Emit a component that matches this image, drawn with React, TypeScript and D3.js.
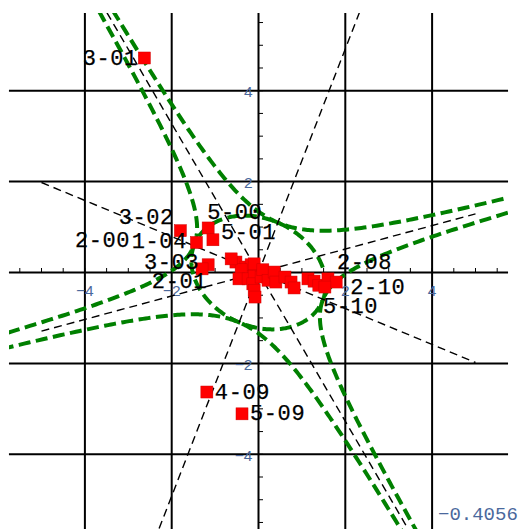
import React from 'react';
import * as d3 from 'd3';

const W = 523;
const H = 529;

// ---- axes / grid data ----
const xDomain = [-5.75, 5.75];
const yDomain = [-5.71, 5.71];
const gridValues = [-4, -2, 2, 4];
const tickLabelValues = [-4, -2, 2, 4];
const minorTickValues = [-5.5, -5, -4.5, -4, -3.5, -3, -2.5, -2, -1.5, -1, -0.5, 0.5, 1, 1.5, 2, 2.5, 3, 3.5, 4, 4.5, 5, 5.5];

// ---- dashed lines through the origin (slopes, data units) ----
const lineSlopes = [-1.637, 0.258, -0.396, 2.46];
const lineXExtent = [-5, 5];

// ---- hyperbola / ellipse family (asymptotes = first two lines) ----
const semiAxisA = 1.6;

// ---- labelled points ----
const labeledNames = ['3-01', '3-02', '1-04', '2-00', '5-00', '5-01', '3-03', '2-01', '2-08', '2-10', '5-10', '4-09', '5-09'];
const labeledX = [-2.63, -1.8, -1.43, -0.63, -1.16, -1.05, -1.16, -1.3, 1.6, 1.79, 1.53, -1.19, -0.38];
const labeledY = [4.72, 0.92, 0.66, 0.3, 0.98, 0.72, 0.17, 0.08, -0.14, -0.21, -0.32, -2.63, -3.11];

// ---- unlabelled points in the central cluster ----
const clusterX = [-0.52, -0.29, -0.17, -0.1, -0.4, -0.45, -0.24, -0.1, -0.13, -0.1, -0.08, 0.06, 0.1, 0.22, 0.36, 0.4, 0.61, 0.75, 0.82, 1.14, 1.28, 1.39];
const clusterY = [0.23, 0.12, 0.17, 0.19, 0.06, -0.14, -0.14, -0.08, -0.25, -0.39, -0.54, -0.1, 0.06, -0.17, 0.01, -0.21, -0.1, -0.21, -0.34, -0.14, -0.19, -0.28];

const cornerValue = '\u22120.4056';

// label placement (pixels relative to the point, anchor)
const labelPlacement: Record<string, [number, number, string]> = {
  '3-01': [-6.5, 2, 'end'],
  '3-02': [-6.5, -12.5, 'end'],
  '1-04': [-9.5, 0, 'end'],
  '2-00': [-101, -17, 'end'],
  '5-00': [-1, -14, 'start'],
  '5-01': [8, -6, 'start'],
  '3-03': [-9, -1, 'end'],
  '2-01': [5, 14, 'end'],
  '2-08': [9, -15, 'start'],
  '2-10': [14, 6, 'start'],
  '5-10': [-2, 20, 'start'],
  '4-09': [8, 1, 'start'],
  '5-09': [8, 1, 'start'],
};

const GREEN = 'rgb(0,128,0)';
const BLUE = '#4a689c';

export default function App() {
  const xs = d3.scaleLinear().domain(xDomain).range([8.95, 508.05]);
  const ys = d3.scaleLinear().domain(yDomain).range([532, 13]);
  const x0 = xs(0);
  const y0 = ys(0);

  // geometry of the conic family
  const th1 = Math.atan(lineSlopes[0]) + Math.PI;
  const th4 = Math.atan(lineSlopes[1]) + Math.PI;
  const phi = (th1 + th4) / 2;
  const half = (th4 - th1) / 2;
  const a = semiAxisA;
  const b = a * Math.tan(half);
  const eu = [Math.cos(phi), Math.sin(phi)];
  const ev = [-Math.sin(phi), Math.cos(phi)];
  const toXY = (u: number, v: number): [number, number] => [u * eu[0] + v * ev[0], u * eu[1] + v * ev[1]];

  const ts = d3.range(-3.6, 3.6001, 0.02);
  const branches: [number, number][][] = [
    ts.map((t) => toXY(a * Math.cosh(t), b * Math.sinh(t))),
    ts.map((t) => toXY(-a * Math.cosh(t), b * Math.sinh(t))),
    ts.map((t) => toXY(a * Math.sinh(t), b * Math.cosh(t))),
    ts.map((t) => toXY(a * Math.sinh(t), -b * Math.cosh(t))),
  ];
  const ellipse = d3.range(0, 2 * Math.PI + 0.001, 0.02).map((t) => toXY(a * Math.cos(t), b * Math.sin(t)));

  const line = d3
    .line<[number, number]>()
    .x((d) => xs(d[0]))
    .y((d) => ys(d[1]));

  const plotLeft = xs(xDomain[0]);
  const plotRight = xs(xDomain[1]);
  const plotTop = ys(yDomain[1]);
  const plotBottom = H;

  return (
    <svg width={W} height={H} style={{ position: 'absolute', left: 0, top: 0, background: '#fff', display: 'block' }}>
      <defs>
        <clipPath id="plotClip">
          <rect x={plotLeft} y={plotTop} width={plotRight - plotLeft} height={plotBottom - plotTop} />
        </clipPath>
      </defs>

      {/* grid */}
      <g stroke="#000" strokeWidth={2}>
        {gridValues.map((v) => (
          <line key={'gx' + v} x1={xs(v)} x2={xs(v)} y1={plotTop} y2={plotBottom} />
        ))}
        {gridValues.map((v) => (
          <line key={'gy' + v} x1={plotLeft} x2={plotRight} y1={ys(v)} y2={ys(v)} />
        ))}
        <line x1={x0} x2={x0} y1={plotTop} y2={plotBottom} />
        <line x1={plotLeft} x2={plotRight} y1={y0} y2={y0} />
      </g>

      {/* minor ticks */}
      <g stroke="#000" strokeWidth={1}>
        {minorTickValues.map((v) => (
          <line key={'tx' + v} x1={xs(v)} x2={xs(v)} y1={y0} y2={y0 - 4.5} />
        ))}
        {minorTickValues.map((v) => (
          <line key={'ty' + v} x1={x0} x2={x0 + 4.5} y1={ys(v)} y2={ys(v)} />
        ))}
      </g>

      {/* tick labels */}
      <g fill={BLUE} fontFamily="'Liberation Sans', Arial, sans-serif" fontSize={15.5}>
        {tickLabelValues.map((v) => (
          <text key={'lx' + v} x={xs(v)} y={y0 + 23.5} textAnchor="middle">
            {v < 0 ? '\u2212' + Math.abs(v) : String(v)}
          </text>
        ))}
        {tickLabelValues.map((v) => (
          <text key={'ly' + v} x={x0 - 6} y={ys(v) + 1} textAnchor="end" dominantBaseline="central">
            {v < 0 ? '\u2212' + Math.abs(v) : String(v)}
          </text>
        ))}
      </g>

      <g clipPath="url(#plotClip)">
        {/* green conic curves */}
        <g fill="none" stroke={GREEN} strokeWidth={4} strokeDasharray="12,5.5">
          {branches.map((br, i) => (
            <path key={'br' + i} d={line(br) || ''} />
          ))}
          <path d={line(ellipse) || ''} />
        </g>

        {/* black dashed lines */}
        <g fill="none" stroke="#000" strokeWidth={1.4} strokeDasharray="8,5">
          {lineSlopes.map((s, i) => (
            <line
              key={'l' + i}
              x1={xs(lineXExtent[0])}
              y1={ys(s * lineXExtent[0])}
              x2={xs(lineXExtent[1])}
              y2={ys(s * lineXExtent[1])}
            />
          ))}
        </g>
      </g>

      {/* points */}
      <g fill="#ff0000" stroke="#d00000" strokeWidth={0.5}>
        {clusterX.map((x, i) => (
          <rect key={'c' + i} x={xs(x) - 6} y={ys(clusterY[i]) - 6} width={12} height={12} />
        ))}
        {labeledX.map((x, i) => (
          <rect key={'p' + i} x={xs(x) - 6} y={ys(labeledY[i]) - 6} width={12} height={12} />
        ))}
      </g>

      {/* point labels */}
      <g fill="#000" stroke="#000" strokeWidth={0.25} fontFamily="'Liberation Mono', 'DejaVu Sans Mono', monospace" fontSize={22} letterSpacing={0.6}>
        {labeledNames.map((name, i) => {
          const p = labelPlacement[name];
          return (
            <text
              key={'t' + name}
              x={xs(labeledX[i]) + p[0]}
              y={ys(labeledY[i]) + p[1]}
              textAnchor={p[2]}
              dominantBaseline="central"
            >
              {name}
            </text>
          );
        })}
      </g>

      <text x={438} y={520} fill={BLUE} fontFamily="'Liberation Mono', monospace" fontSize={19}>
        {cornerValue}
      </text>
    </svg>
  );
}
